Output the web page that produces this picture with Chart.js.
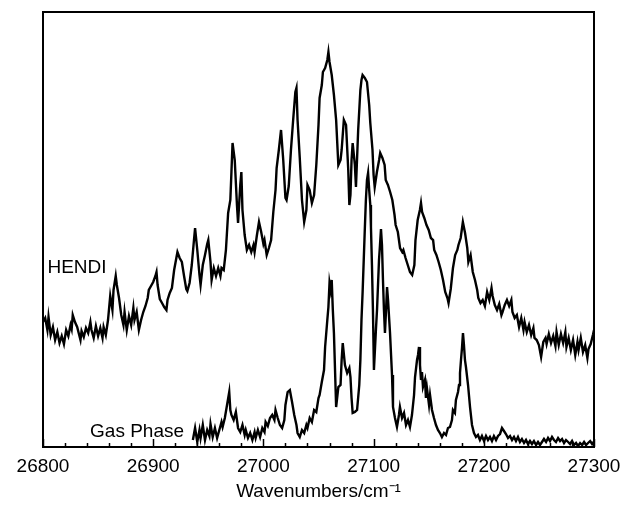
<!DOCTYPE html>
<html>
<head>
<meta charset="utf-8">
<script src="https://cdn.jsdelivr.net/npm/chart.js@4.4.0/dist/chart.umd.min.js"></script>
<style>
  html, body { margin: 0; padding: 0; background: #ffffff; }
  #wrap { width: 621px; height: 515px; }
</style>
</head>
<body>
<div id="wrap"><canvas id="c" width="621" height="515"></canvas></div>
<script>
// ---- Data (wavenumber in cm^-1, intensity in arbitrary units) ----
const xTickLabels = [26800, 26900, 27000, 27100, 27200, 27300];

const hendiX = [26800,26802,26804,26805,26807,26809,26811,26813,26815,26817,26819,26821,26823,26825,26826,26827,26829,26831,26834,26835,26837,26839,26841,26843,26844,26846,26848,26850,26852,26854,26855,26857,26859,26861,26863,26864,26866,26867,26869,26871,26873,26874,26876,26878,26880,26882,26883,26885,26887,26889,26891,26893,26895,26896,26898,26900,26902,26903,26904,26906,26908,26910,26912,26913,26915,26917,26919,26921,26922,26924,26926,26928,26930,26931,26933,26935,26937,26938,26940,26942,26943,26945,26947,26949,26950,26952,26953,26955,26957,26959,26961,26962,26964,26966,26968,26970,26971,26972,26974,26976,26977,26979,26980,26981,26983,26985,26987,26989,26991,26992,26994,26996,26998,27000,27001,27003,27005,27007,27009,27011,27012,27014,27016,27018,27020,27021,27023,27025,27027,27029,27030,27031,27033,27035,27037,27039,27040,27042,27044,27046,27048,27050,27051,27053,27054,27056,27058,27059,27060,27062,27064,27066,27068,27070,27071,27073,27075,27077,27078,27079,27080,27081,27083,27084,27086,27088,27089,27090,27092,27094,27096,27097,27099,27100,27101,27103,27105,27106,27108,27110,27111,27113,27115,27117,27119,27120,27122,27124,27126,27127,27129,27131,27133,27135,27137,27138,27140,27142,27143,27144,27146,27148,27150,27152,27154,27155,27157,27159,27161,27163,27165,27167,27168,27170,27172,27174,27176,27177,27179,27181,27183,27185,27186,27188,27190,27192,27194,27195,27197,27199,27201,27203,27205,27207,27208,27210,27212,27214,27216,27217,27219,27221,27223,27225,27226,27228,27230,27232,27234,27236,27237,27239,27241,27243,27245,27246,27248,27250,27252,27254,27256,27257,27259,27261,27263,27265,27266,27268,27270,27272,27274,27275,27277,27279,27281,27283,27285,27286,27288,27290,27292,27294,27295,27297,27299,27300];
const hendiY = [25.0,25.8,23.4,26.0,22.4,24.0,21.4,23.0,20.8,22.2,20.6,23.4,22.2,24.4,23.6,26.4,25.0,24.0,21.4,23.2,22.0,23.8,22.8,25.0,23.4,21.8,24.2,22.2,23.8,21.8,24.0,22.4,25.4,30.2,27.4,31.4,34.2,32.4,29.8,26.4,24.4,27.0,23.4,26.2,24.4,27.8,25.4,27.0,23.4,25.4,27.0,28.2,29.8,31.4,32.2,33.0,34.2,35.0,32.4,29.6,28.8,28.0,27.4,29.4,30.8,31.8,35.4,37.8,39.0,37.8,37.0,34.2,31.6,31.2,32.8,36.4,41.4,43.8,39.4,34.4,32.4,36.4,38.4,40.6,41.4,37.0,33.4,35.8,34.2,35.8,34.2,35.8,35.4,39.4,46.8,49.4,55.0,60.8,57.4,48.4,44.8,52.4,55.0,47.4,42.4,39.4,40.4,39.0,40.4,39.0,42.2,45.0,43.0,40.6,41.4,38.4,39.8,41.4,47.0,51.4,55.8,59.4,63.4,57.4,49.8,49.4,52.2,59.4,65.4,71.0,71.8,65.4,57.8,49.4,45.0,47.4,52.4,51.4,48.8,50.4,56.4,64.4,69.8,72.4,75.0,75.8,77.4,79.0,77.0,74.4,70.4,65.4,56.4,57.4,59.4,65.4,64.4,55.4,48.4,50.4,57.4,60.8,56.4,52.0,63.4,71.4,73.4,74.4,73.8,73.0,68.4,64.8,59.4,54.4,52.0,55.0,57.4,58.8,57.8,56.4,53.4,52.4,51.0,49.4,46.4,44.4,43.0,39.8,39.0,39.4,37.8,36.4,35.0,34.4,36.4,41.4,45.4,47.4,48.8,47.0,45.8,44.4,43.4,41.8,41.4,39.4,38.4,37.0,35.4,33.4,31.0,29.8,28.8,31.6,35.8,38.4,39.4,40.4,41.8,45.0,42.8,39.8,37.0,38.4,35.0,33.4,31.4,29.8,28.8,29.4,28.2,31.0,29.4,31.8,30.2,28.4,27.4,28.6,26.4,27.0,28.4,29.4,28.2,29.4,27.0,25.8,26.4,24.0,25.8,23.4,25.0,23.0,24.4,22.4,23.8,21.8,21.4,20.4,18.0,21.0,21.8,20.6,22.6,20.8,22.2,20.2,23.0,20.4,22.6,20.8,23.0,20.0,21.8,19.4,21.4,18.4,21.0,19.4,21.8,19.0,20.4,17.8,19.6,20.6,22.4,23.4];

const gasX = [26936,26938,26940,26942,26943,26945,26947,26949,26951,26952,26954,26956,26958,26960,26962,26963,26965,26967,26969,26970,26971,26973,26975,26977,26979,26981,26983,26984,26986,26988,26990,26992,26993,26995,26997,26999,27001,27002,27004,27006,27008,27010,27011,27013,27015,27017,27019,27020,27022,27024,27026,27028,27030,27031,27033,27035,27037,27039,27040,27042,27044,27046,27048,27050,27051,27053,27055,27056,27058,27059,27060,27061,27062,27063,27064,27066,27068,27070,27071,27072,27074,27076,27078,27079,27080,27081,27083,27085,27087,27088,27089,27090,27092,27093,27094,27095,27096,27097,27097.6,27098.5,27099.4,27100.3,27102.1,27103.1,27104.9,27105.8,27106.7,27107.6,27108.5,27109.4,27110.3,27111.3,27112.2,27113.1,27114.9,27116.7,27117.6,27119.4,27121.2,27123.0,27123.9,27125.8,27127.6,27129.4,27131.2,27133.0,27134.8,27136.7,27137.6,27139.4,27140.3,27141.2,27142.1,27143.0,27143.9,27144.8,27146.6,27147.5,27148.4,27150.3,27151.2,27153.0,27154.8,27156.6,27158.4,27160.2,27162.0,27163.9,27165.7,27167.5,27169.3,27171.1,27172.0,27173.8,27174.7,27176.6,27177.5,27178.4,27179.3,27180.2,27181.1,27182.0,27182.9,27183.8,27185.7,27187.5,27189.3,27191.1,27192.9,27194.7,27196.5,27198.3,27200.2,27202.0,27203.8,27205.6,27207.4,27209.2,27211.1,27212.9,27214.7,27216.5,27218.3,27220.1,27222.0,27223.8,27225.6,27227.4,27229.2,27231.0,27232.8,27234.6,27236.5,27238.3,27240.1,27241.9,27243.7,27245.5,27247.4,27249.2,27251.0,27252.8,27254.6,27256.5,27258.3,27260.1,27261.9,27263.7,27265.5,27267.4,27269.2,27271.0,27272.8,27274.6,27276.5,27278.3,27280.1,27281.9,27283.7,27285.5,27287.4,27289.2,27291.0,27292.8,27294.6,27296.5,27298.3,27299.5];
const gasY = [1.4,3.8,1.0,3.4,1.8,4.4,1.4,3.4,2.2,4.6,2.0,3.8,1.8,3.4,5.0,4.0,5.8,8.4,11.0,7.4,6.4,5.4,7.0,3.8,3.0,4.4,2.4,3.4,1.8,2.8,1.4,3.0,1.8,3.4,2.0,3.8,3.0,5.0,4.2,5.8,6.4,5.4,7.4,5.8,4.4,3.8,5.4,8.4,11.0,11.4,9.0,6.4,4.4,2.8,2.0,3.4,2.8,4.4,3.8,5.8,5.0,7.4,7.0,9.8,10.4,13.0,15.4,20.0,25.4,28.0,32.8,31.4,33.4,27.4,22.8,8.0,12.0,12.4,17.4,20.8,16.4,14.8,15.8,14.0,9.8,6.8,7.0,7.4,12.4,17.4,25.4,30.8,43.4,49.4,53.4,54.8,51.4,48.4,44.0,36.4,27.4,15.4,23.4,27.4,37.4,40.4,43.6,40.4,33.4,27.4,22.8,27.4,32.0,29.4,22.8,14.4,8.0,5.8,4.0,6.4,8.0,5.8,6.8,4.4,5.4,4.0,6.4,10.4,14.0,17.4,18.4,20.0,16.4,13.4,15.0,12.0,13.4,9.8,11.8,8.4,10.4,7.4,5.8,4.4,3.4,2.8,2.0,2.8,2.4,3.8,4.0,5.4,7.4,6.8,9.4,11.0,12.4,14.8,17.4,19.8,22.8,20.4,17.4,16.0,12.4,8.0,4.4,2.8,2.0,2.4,1.4,2.2,1.2,2.2,1.4,2.0,1.2,2.2,1.4,2.2,2.6,3.8,3.2,2.6,1.8,2.2,1.4,2.0,1.2,2.0,1.0,1.6,0.8,1.4,0.6,1.2,0.6,1.2,0.4,1.0,0.4,1.0,1.6,1.0,1.8,1.2,2.0,1.4,1.0,1.8,1.2,1.6,0.8,1.4,1.0,0.6,1.2,0.4,0.8,0.2,0.8,0.4,1.0,0.4,0.8,1.2,0.6,1.0];

const seriesLabels = ['HENDI', 'Gas Phase'];

// ---- Chart ----
const FONT = '"Liberation Sans", Arial, sans-serif';
const toPts = (xs, ys) => xs.map((x, i) => ({ x: x, y: ys[i] }));

const framePlugin = {
  id: 'frameAndTicks',
  afterDatasetsDraw(chart) {
    const ctx = chart.ctx;
    const a = chart.chartArea;
    const xs = chart.scales.x;
    const ys = chart.scales.y;
    ctx.save();
    ctx.strokeStyle = '#000';
    ctx.lineWidth = 2;
    ctx.strokeRect(a.left, a.top, a.right - a.left, a.bottom - a.top);
    // inward ticks on bottom axis
    const first = xTickLabels[0], last = xTickLabels[xTickLabels.length - 1];
    ctx.lineWidth = 1.5;
    for (let v = first; v <= last; v += 20) {
      const isMajor = xTickLabels.indexOf(v) >= 0;
      const px = Math.round(xs.getPixelForValue(v)) + 0.5;
      const len = isMajor ? 8 : 4;
      ctx.beginPath();
      ctx.moveTo(px, a.bottom);
      ctx.lineTo(px, a.bottom - len);
      ctx.stroke();
    }
    // series labels
    ctx.fillStyle = '#000';
    ctx.font = '19px ' + FONT;
    ctx.textBaseline = 'middle';
    ctx.textAlign = 'left';
    ctx.fillText(seriesLabels[0], xs.getPixelForValue(26804), ys.getPixelForValue(35.8));
    ctx.textAlign = 'right';
    ctx.fillText(seriesLabels[1], xs.getPixelForValue(26928), ys.getPixelForValue(3.0));
    ctx.restore();
  }
};

new Chart(document.getElementById('c'), {
  type: 'line',
  data: {
    datasets: [
      { label: seriesLabels[0], data: toPts(hendiX, hendiY), borderColor: '#000', borderWidth: 2.4, pointRadius: 0, tension: 0, fill: false },
      { label: seriesLabels[1], data: toPts(gasX, gasY), borderColor: '#000', borderWidth: 2.4, pointRadius: 0, tension: 0, fill: false }
    ]
  },
  options: {
    responsive: false,
    animation: false,
    devicePixelRatio: 1,
    layout: { padding: { left: 43, right: 27, top: 12, bottom: 0 } },
    plugins: { legend: { display: false }, tooltip: { enabled: false } },
    scales: {
      x: {
        type: 'linear',
        min: xTickLabels[0],
        max: xTickLabels[xTickLabels.length - 1],
        afterBuildTicks(scale) { scale.ticks = xTickLabels.map(v => ({ value: v })); },
        afterFit(scale) { scale.height = 68; scale.paddingLeft = 0; scale.paddingRight = 0; },
        grid: { display: true, drawOnChartArea: false, drawTicks: false },
        border: { display: false },
        ticks: {
          padding: 8,
          color: '#000',
          font: { family: FONT, size: 19 },
          callback: v => String(v),
          maxRotation: 0
        },
        title: {
          display: true,
          text: 'Wavenumbers/cm\u207B\u00B9',
          color: '#000',
          font: { family: FONT, size: 19 },
          padding: { top: 0, bottom: 12 }
        }
      },
      y: {
        display: false,
        min: 0,
        max: 87
      }
    }
  },
  plugins: [framePlugin]
});
</script>
</body>
</html>
